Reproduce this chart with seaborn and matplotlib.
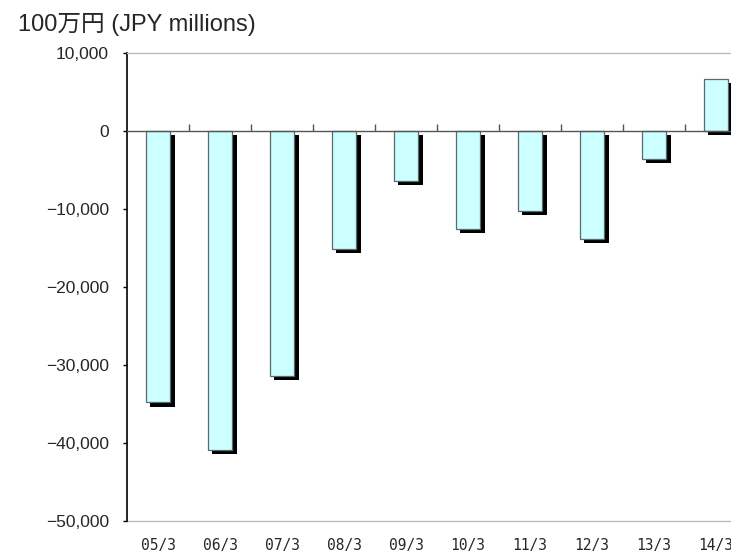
import numpy as np
import pandas as pd
import matplotlib
matplotlib.use('Agg')
import matplotlib.pyplot as plt
import matplotlib.patheffects as pe
from matplotlib.ticker import FuncFormatter
import seaborn as sns

# datos
periodos = ['05/3', '06/3', '07/3', '08/3', '09/3', '10/3', '11/3', '12/3', '13/3', '14/3']
valores = [-34800, -40900, -31400, -15100, -6400, -12600, -10200, -13800, -3600, 6700]
y_ticks = [10000, 0, -10000, -20000, -30000, -40000, -50000]

df = pd.DataFrame({'periodo': periodos, 'valor': valores})

sns.set_style('white')
plt.rcParams['font.family'] = ['Liberation Sans', 'Noto Sans CJK JP', 'DejaVu Sans']

fig = plt.figure(figsize=(7.31, 5.55), dpi=100)
ax = fig.add_axes([127 / 731, 34 / 555, 620 / 731, 468 / 555])

sns.barplot(data=df, x='periodo', y='valor', color='#CCFFFF', width=0.4,
            edgecolor='#5a6a6a', linewidth=0.9, saturation=1, ax=ax)

# sombra negra de cada barra
for p in ax.patches:
    p.set_path_effects([pe.SimplePatchShadow(offset=(3, -3), shadow_rgbFace='black', alpha=1),
                        pe.Normal()])

ax.set_xlim(-0.5, len(periodos) - 0.5)
ax.set_ylim(-50000, 10000)
ax.set_yticks(y_ticks)
ax.yaxis.set_major_formatter(FuncFormatter(lambda v, _: f'{int(v):,}'.replace('-', '\u2212')))
ax.tick_params(axis='y', direction='out', length=3, width=1, color='black', pad=10,
               labelsize=12.5, left=True)

# eje en cero con marcas entre categorías
ax.spines['bottom'].set_position(('data', 0))
ax.spines['bottom'].set_color('#555555')
ax.spines['bottom'].set_linewidth(1)
ax.set_xticks(np.arange(len(periodos) - 1) + 0.5)
ax.set_xticklabels([])
ax.tick_params(axis='x', direction='in', length=5, width=1, color='#555555', bottom=True)
ax.spines['left'].set_color('black')
ax.spines['left'].set_linewidth(1.2)
ax.spines['top'].set_color('#bbbbbb')
ax.spines['top'].set_linewidth(1)
ax.spines['right'].set_visible(False)
ax.set_xlabel('')
ax.set_ylabel('')

# etiquetas abajo
sec = ax.secondary_xaxis(0)
sec.set_xticks(np.arange(len(periodos)))
sec.set_xticklabels(periodos, family=['DejaVu Sans Mono'], fontsize=10.5)
sec.tick_params(length=0, pad=12)
sec.spines['bottom'].set_color('#bbbbbb')
sec.spines['bottom'].set_linewidth(1)

fig.text(18 / 731, 1 - 31 / 555, '100万円 (JPY millions)', fontsize=17, va='baseline', ha='left')

plt.savefig('out.png', dpi=100)
